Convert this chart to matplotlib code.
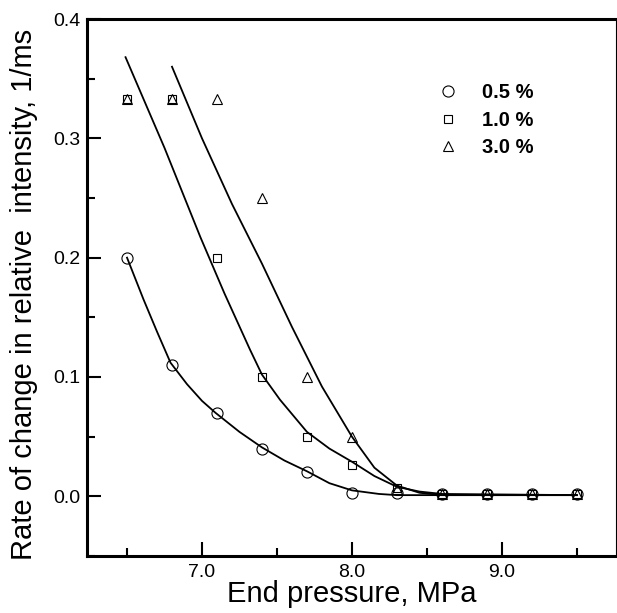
import numpy as np
import matplotlib
matplotlib.use("Agg")
import matplotlib.pyplot as plt
from matplotlib.ticker import MultipleLocator, FormatStrFormatter

plt.rcParams['font.family'] = ['Liberation Sans', 'DejaVu Sans']

# measured points
pressure = [6.5, 6.8, 7.1, 7.4, 7.7, 8.0, 8.3, 8.6, 8.9, 9.2, 9.5]
rate_05 = [0.200, 0.110, 0.070, 0.040, 0.020, 0.0025, 0.0025, 0.002, 0.002, 0.002, 0.002]
rate_10 = [0.333, 0.333, 0.200, 0.100, 0.050, 0.026, 0.007, 0.002, 0.002, 0.002, 0.002]
rate_30 = [0.333, 0.333, 0.333, 0.250, 0.100, 0.050, 0.006, 0.002, 0.002, 0.002, 0.002]

# fitted curves
fit05_x = [6.50, 6.61, 6.70, 6.79, 6.90, 7.00, 7.09, 7.25, 7.40, 7.55, 7.70, 7.85, 8.00, 8.18, 8.30, 9.50]
fit05_y = [0.200, 0.165, 0.138, 0.112, 0.094, 0.080, 0.070, 0.054, 0.041, 0.030, 0.021, 0.011, 0.005, 0.002, 0.001, 0.001]
fit10_x = [6.49, 6.75, 6.99, 7.15, 7.32, 7.40, 7.52, 7.70, 7.85, 8.00, 8.15, 8.30, 8.45, 8.60, 9.50]
fit10_y = [0.368, 0.292, 0.217, 0.170, 0.123, 0.102, 0.081, 0.054, 0.040, 0.029, 0.017, 0.008, 0.004, 0.002, 0.001]
fit30_x = [6.80, 7.00, 7.20, 7.40, 7.60, 7.80, 8.00, 8.15, 8.30, 8.45, 8.60, 9.50]
fit30_y = [0.360, 0.300, 0.245, 0.195, 0.142, 0.092, 0.050, 0.024, 0.009, 0.003, 0.001, 0.001]

labels = ['0.5 %', '1.0 %', '3.0 %']

fig = plt.figure(figsize=(6.17, 6.13), dpi=100)
ax = fig.add_axes([0.141, 0.093, 0.857, 0.876])

lw = 1.3
ax.plot(fit05_x, fit05_y, color='k', lw=lw)
ax.plot(fit10_x, fit10_y, color='k', lw=lw)
ax.plot(fit30_x, fit30_y, color='k', lw=lw)

mk = dict(linestyle='none', color='k', markerfacecolor='none', markeredgewidth=0.8)
ax.plot(pressure, rate_05, marker='o', markersize=8, label=labels[0], **mk)
ax.plot(pressure, rate_10, marker='s', markersize=5.5, label=labels[1], **mk)
ax.plot(pressure, rate_30, marker='^', markersize=7, label=labels[2], **mk)

ax.set_xlim(6.233, 9.76)
ax.set_ylim(-0.05, 0.4)
ax.xaxis.set_major_locator(MultipleLocator(1.0))
ax.xaxis.set_minor_locator(MultipleLocator(0.5))
ax.yaxis.set_major_locator(MultipleLocator(0.1))
ax.yaxis.set_minor_locator(MultipleLocator(0.05))
ax.xaxis.set_major_formatter(FormatStrFormatter('%.1f'))
ax.yaxis.set_major_formatter(FormatStrFormatter('%.1f'))

ax.tick_params(which='both', direction='in', top=False, right=False, labelsize=14, width=1.5)
ax.tick_params(which='major', length=10)
ax.tick_params(which='minor', length=6)
ax.tick_params(axis='x', pad=6)
ax.tick_params(axis='y', pad=5)

for s in ['left', 'bottom', 'top']:
    ax.spines[s].set_linewidth(2.2)
ax.spines['right'].set_linewidth(0.8)

ax.set_xlabel('End pressure, MPa', fontsize=21)
ax.set_ylabel('Rate of change in relative  intensity, 1/ms', fontsize=21)
ax.xaxis.set_label_coords(0.5, -0.045)
ax.yaxis.set_label_coords(-0.093, 0.488)

ax.legend(frameon=False, loc='upper left', bbox_to_anchor=(0.664, 0.881),
          borderaxespad=0, borderpad=0, handlelength=1.0, handletextpad=1.2,
          labelspacing=0.43, prop={'weight': 'bold', 'size': 14.5})

fig.savefig('out.png', dpi=100)
